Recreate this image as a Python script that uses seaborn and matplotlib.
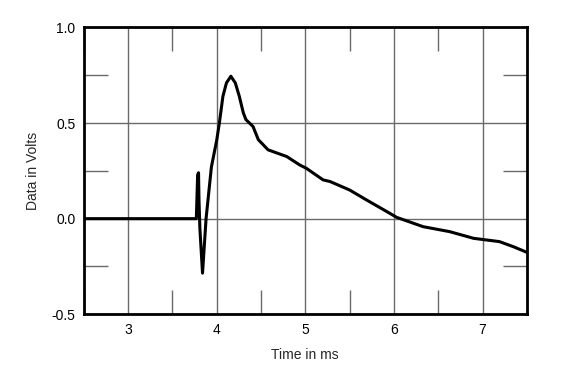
import numpy as np
import pandas as pd
import matplotlib
matplotlib.use("Agg")
import matplotlib.pyplot as plt
import seaborn as sns
from matplotlib.ticker import MultipleLocator

# impulse response
time_ms = [2.50, 3.00, 3.50, 3.77, 3.785, 3.795, 3.80, 3.81, 3.84, 3.88, 3.94, 4.00,
           4.03, 4.07, 4.11, 4.16, 4.21, 4.255, 4.30, 4.33, 4.41, 4.47, 4.58,
           4.79, 4.94, 5.01, 5.20, 5.28, 5.50, 5.69, 5.92, 6.03, 6.33, 6.63,
           6.90, 7.19, 7.35, 7.50]
volts = [0.0, 0.0, 0.0, 0.0, 0.23, 0.24, 0.10, -0.05, -0.285, 0.0, 0.27, 0.41,
         0.50, 0.64, 0.71, 0.745, 0.71, 0.64, 0.554, 0.518, 0.482, 0.413, 0.36,
         0.325, 0.28, 0.264, 0.203, 0.194, 0.15, 0.098, 0.037, 0.007, -0.042,
         -0.068, -0.103, -0.12, -0.147, -0.176]

df = pd.DataFrame({"Time in ms": time_ms, "Data in Volts": volts})

sns.set_style("white")
plt.rcParams["font.family"] = ["Liberation Sans", "DejaVu Sans"]

fig, ax = plt.subplots(figsize=(5.86, 3.87), dpi=100)
fig.subplots_adjust(left=0.143, right=0.899, top=0.929, bottom=0.188)

sns.lineplot(data=df, x="Time in ms", y="Data in Volts", color="black",
             linewidth=2.2, ax=ax, zorder=3)

ax.set_xlim(2.5, 7.5)
ax.set_ylim(-0.5, 1.0)
ax.set_xticks([3, 4, 5, 6, 7])
ax.set_yticks([-0.5, 0.0, 0.5, 1.0])
ax.set_yticklabels(["-0.5", "0.0", "0.5", "1.0"])
ax.xaxis.set_minor_locator(MultipleLocator(0.5))
ax.yaxis.set_minor_locator(MultipleLocator(0.25))

ax.grid(True, which="major", color="#6a6a6a", linewidth=1.0)
ax.tick_params(which="major", length=0, labelsize=10, pad=6, colors="black")
ax.tick_params(which="minor", direction="in", length=17, width=1.0,
               color="#6a6a6a", top=True, bottom=True, left=True, right=True)
for s in ax.spines.values():
    s.set_color("black")
    s.set_linewidth(2.0)

ax.set_xlabel("Time in ms", fontsize=10, labelpad=8)
ax.set_ylabel("Data in Volts", fontsize=10, labelpad=8)

fig.savefig("out.png", dpi=100)
